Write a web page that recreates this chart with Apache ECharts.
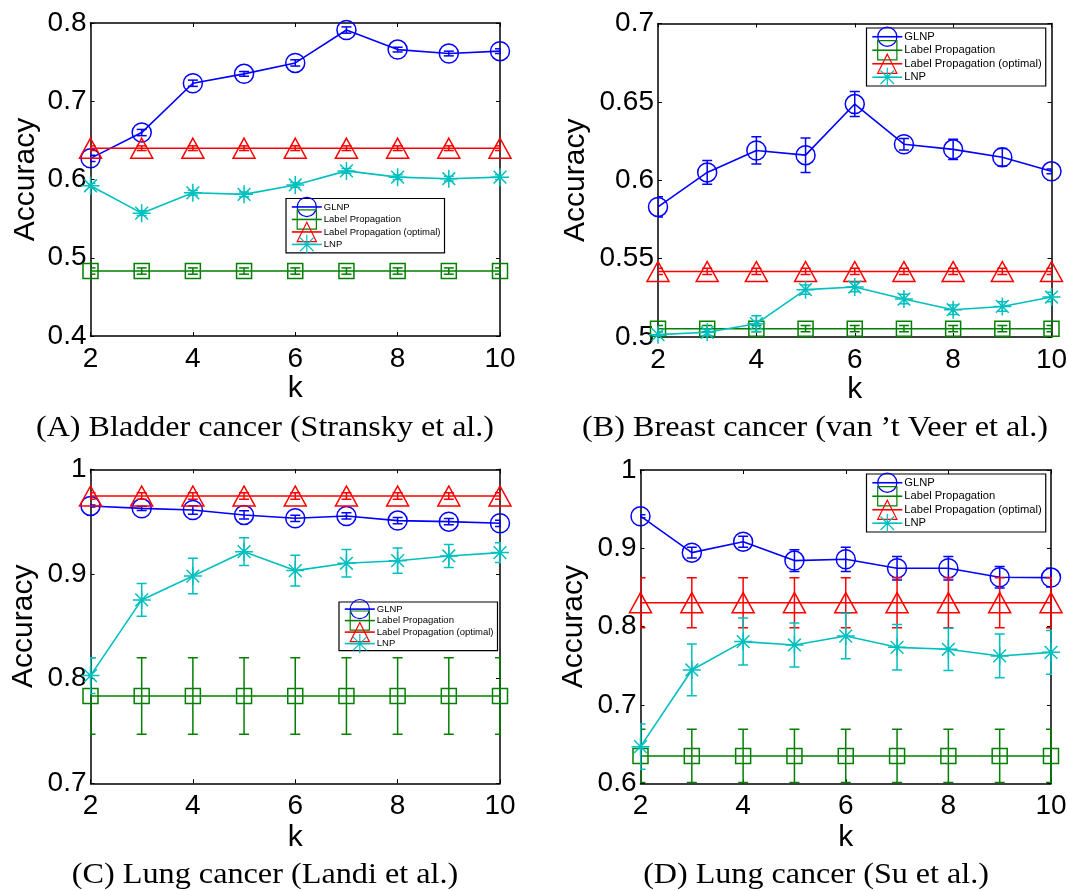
<!DOCTYPE html>
<html><head><meta charset="utf-8">
<script src="https://cdn.jsdelivr.net/npm/echarts@6/dist/echarts.min.js"></script>
<style>html,body{margin:0;padding:0;background:#fff}#c{width:1068px;height:891px}</style>
</head><body><div id="c"></div>
<script>
// ---------- data ----------
const kValues = [2, 3, 4, 5, 6, 7, 8, 9, 10];
const xTicks = [2, 4, 6, 8, 10];
const seriesNames = ['GLNP', 'Label Propagation', 'Label Propagation (optimal)', 'LNP'];

// Panel A: Bladder cancer (Stransky et al.)
const A_yTicks = [0.4, 0.5, 0.6, 0.7, 0.8];
const A_GLNP = [0.627, 0.660, 0.723, 0.735, 0.749, 0.791, 0.766, 0.761, 0.764];
const A_GLNP_err = [0.004, 0.004, 0.004, 0.003, 0.004, 0.004, 0.003, 0.003, 0.003];
const A_LP = [0.483, 0.483, 0.483, 0.483, 0.483, 0.483, 0.483, 0.483, 0.483];
const A_LP_err = [0.004, 0.004, 0.004, 0.004, 0.004, 0.004, 0.004, 0.004, 0.004];
const A_LPopt = [0.640, 0.640, 0.640, 0.640, 0.640, 0.640, 0.640, 0.640, 0.640];
const A_LPopt_err = [0.003, 0.003, 0.003, 0.003, 0.003, 0.003, 0.003, 0.003, 0.003];
const A_LNP = [0.592, 0.557, 0.583, 0.581, 0.593, 0.611, 0.603, 0.601, 0.603];
const A_LNP_err = [0.003, 0.003, 0.003, 0.003, 0.003, 0.003, 0.003, 0.003, 0.003];

// Panel B: Breast cancer (van 't Veer et al.)
const B_yTicks = [0.5, 0.55, 0.6, 0.65, 0.7];
const B_GLNP = [0.583, 0.605, 0.619, 0.616, 0.6486, 0.623, 0.6197, 0.6147, 0.6057];
const B_GLNP_err = [0.0064, 0.0076, 0.0087, 0.011, 0.008, 0.0037, 0.0064, 0.0056, 0.0015];
const B_LP = [0.5053, 0.5053, 0.5053, 0.5053, 0.5053, 0.5053, 0.5053, 0.5053, 0.5053];
const B_LP_err = [0.002, 0.002, 0.002, 0.002, 0.002, 0.002, 0.002, 0.002, 0.002];
const B_LPopt = [0.5418, 0.5418, 0.5418, 0.5418, 0.5418, 0.5418, 0.5418, 0.5418, 0.5418];
const B_LPopt_err = [0.002, 0.002, 0.002, 0.002, 0.002, 0.002, 0.002, 0.002, 0.002];
const B_LNP = [0.5015, 0.503, 0.5085, 0.5302, 0.5319, 0.5242, 0.5174, 0.5195, 0.5255];
const B_LNP_err = [0.002, 0.002, 0.005, 0.003, 0.003, 0.003, 0.003, 0.003, 0.003];

// Panel C: Lung cancer (Landi et al.)
const C_yTicks = [0.7, 0.8, 0.9, 1];
const C_GLNP = [0.965, 0.9627, 0.9611, 0.9564, 0.9532, 0.9554, 0.951, 0.950, 0.9484];
const C_GLNP_err = [0.001, 0.002, 0.004, 0.004, 0.003, 0.003, 0.003, 0.003, 0.003];
const C_LP = [0.7834, 0.7834, 0.7834, 0.7834, 0.7834, 0.7834, 0.7834, 0.7834, 0.7834];
const C_LP_err = [0.0366, 0.0366, 0.0366, 0.0366, 0.0366, 0.0366, 0.0366, 0.0366, 0.0366];
const C_LPopt = [0.9745, 0.9745, 0.9745, 0.9745, 0.9745, 0.9745, 0.9745, 0.9745, 0.9745];
const C_LPopt_err = [0.003, 0.003, 0.003, 0.003, 0.003, 0.003, 0.003, 0.003, 0.003];
const C_LNP = [0.8029, 0.8752, 0.898, 0.9213, 0.9032, 0.9102, 0.9127, 0.9172, 0.9204];
const C_LNP_err = [0.017, 0.0156, 0.017, 0.0132, 0.0146, 0.0132, 0.012, 0.011, 0.0095];

// Panel D: Lung cancer (Su et al.)
const D_yTicks = [0.6, 0.7, 0.8, 0.9, 1];
const D_GLNP = [0.941, 0.8945, 0.9085, 0.8843, 0.886, 0.8745, 0.8745, 0.863, 0.8626];
const D_GLNP_err = [0.002, 0.007, 0.007, 0.0138, 0.0155, 0.015, 0.015, 0.0138, 0.012];
const D_LP = [0.6349, 0.6349, 0.6349, 0.6349, 0.6349, 0.6349, 0.6349, 0.6349, 0.6349];
const D_LP_err = [0.034, 0.034, 0.034, 0.034, 0.034, 0.034, 0.034, 0.034, 0.034];
const D_LPopt = [0.8306, 0.8306, 0.8306, 0.8306, 0.8306, 0.8306, 0.8306, 0.8306, 0.8306];
const D_LPopt_err = [0.0319, 0.0319, 0.0319, 0.0319, 0.0319, 0.0319, 0.0319, 0.0319, 0.0319];
const D_LNP = [0.6468, 0.7447, 0.7809, 0.7766, 0.788, 0.7736, 0.7711, 0.7626, 0.7672];
const D_LNP_err = [0.029, 0.033, 0.030, 0.028, 0.029, 0.029, 0.027, 0.028, 0.028];

const captions = [
  '(A) Bladder cancer (Stransky et al.)',
  "(B) Breast cancer (van \u2019t Veer et al.)",
  '(C) Lung cancer (Landi et al.)',
  '(D) Lung cancer (Su et al.)'
];

// ---------- layout / style ----------
const panels = [
  { yTicks: A_yTicks, vals: [A_GLNP, A_LP, A_LPopt, A_LNP], errs: [A_GLNP_err, A_LP_err, A_LPopt_err, A_LNP_err],
    grid: { left: 90.5, top: 23, width: 409.5, height: 313 }, yGap: 50, xGap: 33,
    legend: { left: 286, top: 198.5, font: 9.5, pitch: 12.5, boxH: 54.4 },
    cap: { x: 265, y: 428.5, w: 458 } },
  { yTicks: B_yTicks, vals: [B_GLNP, B_LP, B_LPopt, B_LNP], errs: [B_GLNP_err, B_LP_err, B_LPopt_err, B_LNP_err],
    grid: { left: 658, top: 23.5, width: 393.5, height: 313.5 }, yGap: 67, xGap: 34,
    legend: { left: 866.5, top: 28, font: 11.2, pitch: 13.5, boxH: 58 },
    cap: { x: 815, y: 428.5, w: 466 } },
  { yTicks: C_yTicks, vals: [C_GLNP, C_LP, C_LPopt, C_LNP], errs: [C_GLNP_err, C_LP_err, C_LPopt_err, C_LNP_err],
    grid: { left: 90.5, top: 469.3, width: 409.5, height: 314 }, yGap: 52, xGap: 39,
    legend: { left: 339, top: 602, font: 9.5, pitch: 11.5, boxH: 48.7 },
    cap: { x: 265, y: 874.7, w: 386.6 } },
  { yTicks: D_yTicks, vals: [D_GLNP, D_LP, D_LPopt, D_LNP], errs: [D_GLNP_err, D_LP_err, D_LPopt_err, D_LNP_err],
    grid: { left: 640.5, top: 470, width: 410.5, height: 313.3 }, yGap: 52, xGap: 39,
    legend: { left: 866.5, top: 474, font: 11.2, pitch: 13.5, boxH: 58 },
    cap: { x: 816, y: 874.7, w: 345.7 } }
];

const colors = ['#0000FF', '#008000', '#FF0000', '#00BFBF'];
const asterisk = 'path://M10,0L10,20M0,10L20,10M2.93,2.93L17.07,17.07M2.93,17.07L17.07,2.93';
const symbols = ['circle', 'rect', 'triangle', asterisk];
const symbolSizes = [19, 15, [22, 20], 18];
const legendItemH = 24;           // legend marker = 0.8 * itemHeight
const legendEffH = legendItemH * 0.8 + 1.2;

const sansFont = '"Liberation Sans", Arial, Helvetica, sans-serif';
const serifFont = '"Liberation Serif", "Times New Roman", serif';

function fmt(v) { return String(parseFloat(Number(v).toFixed(3))); }

function makeErrRender(color) {
  return function (params, api) {
    const x = api.value(0);
    const top = api.coord([x, api.value(2)]);
    const bot = api.coord([x, api.value(1)]);
    const hw = 5;
    const st = { stroke: color, lineWidth: 1.5, fill: null };
    return {
      type: 'group',
      children: [
        { type: 'line', shape: { x1: top[0], y1: top[1], x2: bot[0], y2: bot[1] }, style: st },
        { type: 'line', shape: { x1: top[0] - hw, y1: top[1], x2: top[0] + hw, y2: top[1] }, style: st },
        { type: 'line', shape: { x1: bot[0] - hw, y1: bot[1], x2: bot[0] + hw, y2: bot[1] }, style: st }
      ]
    };
  };
}

const grids = [], xAxes = [], yAxes = [], series = [], legends = [], graphics = [];

const measureCtx = document.createElement('canvas').getContext('2d');

panels.forEach((p, i) => {
  grids.push(Object.assign({ outerBoundsMode: 'none', containLabel: false }, p.grid));
  const yMin = p.yTicks[0], yMax = p.yTicks[p.yTicks.length - 1];
  const yInt = Math.round((p.yTicks[1] - p.yTicks[0]) * 1000) / 1000;
  const xMin = xTicks[0], xMax = xTicks[xTicks.length - 1], xInt = xTicks[1] - xTicks[0];
  const axLine = { show: true, onZero: false, lineStyle: { color: '#000', width: 1.5 } };
  const tick = { show: true, inside: true, length: 4, lineStyle: { color: '#000', width: 1 } };
  xAxes.push({
    type: 'value', gridIndex: i, position: 'bottom', min: xMin, max: xMax, interval: xInt,
    axisLine: axLine, axisTick: tick, splitLine: { show: false },
    axisLabel: { show: true, color: '#000', fontFamily: sansFont, fontSize: 28, margin: 9, formatter: fmt },
    name: 'k', nameLocation: 'middle', nameGap: p.xGap,
    nameTextStyle: { color: '#000', fontFamily: sansFont, fontSize: 30 }
  });
  xAxes.push({
    type: 'value', gridIndex: i, position: 'top', min: xMin, max: xMax, interval: xInt,
    axisLine: axLine, axisTick: tick, splitLine: { show: false }, axisLabel: { show: false }
  });
  yAxes.push({
    type: 'value', gridIndex: i, position: 'left', min: yMin, max: yMax, interval: yInt,
    axisLine: axLine, axisTick: tick, splitLine: { show: false },
    axisLabel: { show: true, color: '#000', fontFamily: sansFont, fontSize: 28, margin: 4, formatter: fmt },
    name: 'Accuracy', nameLocation: 'middle', nameGap: p.yGap,
    nameTextStyle: { color: '#000', fontFamily: sansFont, fontSize: 30 }
  });
  yAxes.push({
    type: 'value', gridIndex: i, position: 'right', min: yMin, max: yMax, interval: yInt,
    axisLine: axLine, axisTick: tick, splitLine: { show: false }, axisLabel: { show: false }
  });

  seriesNames.forEach((name, s) => {
    const vals = p.vals[s], errs = p.errs[s];
    series.push({
      type: 'line', name: name, xAxisIndex: 2 * i, yAxisIndex: 2 * i,
      data: kValues.map((k, j) => [k, vals[j]]),
      symbol: symbols[s], symbolSize: symbolSizes[s], showAllSymbol: true,
      lineStyle: { color: colors[s], width: 1.6 },
      itemStyle: { color: 'rgba(0,0,0,0)', borderColor: colors[s], borderWidth: 1.5 },
      emphasis: { disabled: true }, silent: true, animation: false, clip: true,
      z: 2 + s
    });
    series.push({
      type: 'custom', name: name + ' error', xAxisIndex: 2 * i, yAxisIndex: 2 * i,
      data: kValues.map((k, j) => [k, vals[j] - errs[j], vals[j] + errs[j]]),
      encode: { x: 0, y: [1, 2] },
      renderItem: makeErrRender(colors[s]), clip: true, silent: true, animation: false,
      z: 2 + s
    });
  });

  const L = p.legend;
  const gap = L.pitch - legendEffH;
  const content = 3 * L.pitch + legendEffH;
  const pad = (L.boxH - content) / 2;
  legends.push({
    data: seriesNames, orient: 'vertical', left: L.left, top: L.top,
    itemWidth: 30, itemHeight: legendItemH, itemGap: gap,
    padding: [pad, 4, pad, 5], borderColor: '#000', borderWidth: 1.2, backgroundColor: '#fff',
    itemStyle: { borderWidth: 1.2 },
    lineStyle: { width: 1.6 },
    textStyle: { color: '#000', fontFamily: sansFont, fontSize: L.font, padding: [0, 0, 0, -3] },
    selectedMode: false, z: 10
  });

  const font = '30px ' + serifFont;
  measureCtx.font = font;
  const mw = measureCtx.measureText(captions[i]).width || p.cap.w;
  graphics.push({
    type: 'text', x: p.cap.x, y: p.cap.y, scaleX: p.cap.w / mw, silent: true,
    style: { text: captions[i], fill: '#000', font: font, textAlign: 'center', textVerticalAlign: 'middle' }
  });
});

const chart = echarts.init(document.getElementById('c'), null, { renderer: 'canvas' });
chart.setOption({
  backgroundColor: '#fff',
  animation: false,
  grid: grids, xAxis: xAxes, yAxis: yAxes, series: series, legend: legends, graphic: graphics
});
</script>
</body></html>
